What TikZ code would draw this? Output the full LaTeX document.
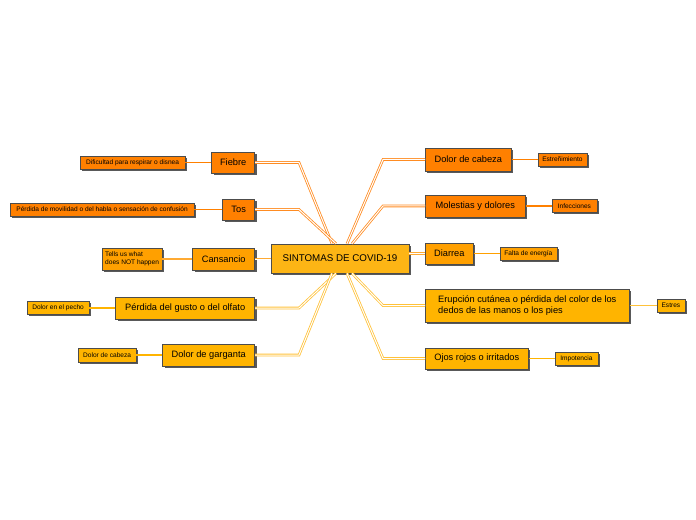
\documentclass[tikz,border=0pt]{standalone}
\usepackage{fontspec}
\setmainfont{Liberation Sans}
\usetikzlibrary{positioning, calc, shadows}

\definecolor{deeporange}{HTML}{FF8000}
\definecolor{midorange}{HTML}{FFA000}
\definecolor{goldbox}{HTML}{FFB400}
\definecolor{hubgold}{HTML}{FDB515}
\definecolor{deeplink}{HTML}{FF8C22}
\definecolor{midlink}{HTML}{FFAA33}
\definecolor{goldlink}{HTML}{FFC23A}

\begin{document}
\begin{tikzpicture}[
    x=1bp, y=-1bp,
    node distance=26bp,
    base/.style={rectangle, draw=black!70, line width=0.6bp, inner sep=0pt,
                 drop shadow={shadow xshift=1.8bp, shadow yshift=-1.8bp,
                              fill=black!65, opacity=1}},
    hub/.style={base, fill=hubgold, minimum width=138bp, minimum height=29bp,
                font=\fontsize{9.8}{11}\selectfont},
    branch/.style={base, minimum height=21bp, font=\fontsize{9.3}{11}\selectfont},
    leaf/.style={base, minimum height=13bp, align=center,
                 font=\fontsize{6.6}{7.6}\selectfont},
    link/.style={double=white, double distance=1bp, line width=0.8bp},
    twig/.style={line width=1.2bp}
]
  \useasboundingbox (0,0) rectangle (696,520);

  \node[hub] (covid) at (340,258.5) {SINTOMAS DE COVID-19};

  % left branches
  \node[branch, fill=deeporange, anchor=east, minimum width=43bp]  (fiebre)    at (255,162.5) {Fiebre};
  \node[branch, fill=deeporange, anchor=east, minimum width=32bp]  (tos)       at (255,209.5) {Tos};
  \node[branch, fill=midorange,  anchor=east, minimum width=62bp, minimum height=22bp] (cansancio) at (255,259) {Cansancio};
  \node[branch, fill=goldbox,    anchor=east, minimum width=139bp, minimum height=22bp] (perdida) at (255,308) {Pérdida del gusto o del olfato};
  \node[branch, fill=goldbox,    anchor=east, minimum width=92bp, minimum height=22bp]  (garganta) at (255,355) {Dolor de garganta};

  % right branches
  \node[branch, fill=deeporange, anchor=west, minimum width=86bp, minimum height=23bp]  (cabeza)    at (425,159.5) {Dolor de cabeza};
  \node[branch, fill=deeporange, anchor=west, minimum width=100bp, minimum height=22bp] (molestias) at (425,206) {Molestias y dolores};
  \node[branch, fill=midorange,  anchor=west, minimum width=48bp]  (diarrea)   at (425,253.5) {Diarrea};
  \node[branch, fill=goldbox,    anchor=west, minimum width=204bp, minimum height=33bp, align=left] (erupcion) at (425,305.5)
        {Erupción cutánea o pérdida del color de los\\dedos de las manos o los pies};
  \node[branch, fill=goldbox,    anchor=west, minimum width=103bp] (ojos)      at (425,358.5) {Ojos rojos o irritados};

  % leaves
  \node[leaf, fill=deeporange, left=of fiebre,     minimum width=105bp] (fiebreleaf)    {Dificultad para respirar o disnea};
  \node[leaf, fill=deeporange, left=28bp of tos,   minimum width=184bp] (tosleaf)       {Pérdida de movilidad o del habla o sensación de confusión};
  \node[leaf, fill=midorange,  left=30bp of cansancio, minimum width=60bp, minimum height=22bp, align=left] (cansancioleaf) {Tells us what\\does NOT happen};
  \node[leaf, fill=goldbox,    left=of perdida,    minimum width=62bp] (perdidaleaf)   {Dolor en el pecho};
  \node[leaf, fill=goldbox,    left=of garganta,   minimum width=58bp, minimum height=14bp] (gargantaleaf) {Dolor de cabeza};
  \node[leaf, fill=deeporange, right=of cabeza,    minimum width=49bp] (cabezaleaf)    {Estreñimiento};
  \node[leaf, fill=deeporange, right=of molestias, minimum width=45bp] (molestiasleaf) {Infecciones};
  \node[leaf, fill=midorange,  right=of diarrea,   minimum width=57bp] (diarrealeaf)   {Falta de energía};
  \node[leaf, fill=goldbox,    right=27bp of erupcion, minimum width=28bp] (erupcionleaf) {Estres};
  \node[leaf, fill=goldbox,    right=of ojos,      minimum width=43bp] (ojosleaf)      {Impotencia};

  % links to the hub
  \draw[link, draw=deeplink] (fiebre.east)    -- ++(44,0) -- ($(covid.north)+(-8,0)$);
  \draw[link, draw=deeplink] (tos.east)       -- ++(44,0) -- ($(covid.north)+(-4,0)$);
  \draw[link, draw=midlink]  (cansancio.east) -- (cansancio.east -| covid.west);
  \draw[link, draw=goldlink] (perdida.east)   -- ++(44,0) -- ($(covid.south)+(-4,0)$);
  \draw[link, draw=goldlink] (garganta.east)  -- ++(44,0) -- ($(covid.south)+(-8,0)$);
  \draw[link, draw=deeplink] (cabeza.west)    -- ++(-42,0) -- ($(covid.north)+(7,0)$);
  \draw[link, draw=deeplink] (molestias.west) -- ++(-42,0) -- ($(covid.north)+(12,0)$);
  \draw[link, draw=midlink]  (diarrea.west)   -- (diarrea.west -| covid.east);
  \draw[link, draw=goldlink] (erupcion.west)  -- ++(-42,0) -- ($(covid.south)+(12,0)$);
  \draw[link, draw=goldlink] (ojos.west)      -- ++(-42,0) -- ($(covid.south)+(7,0)$);

  % links to the leaves
  \draw[twig, draw=deeporange] (fiebre.west)    -- (fiebreleaf.east);
  \draw[twig, draw=deeporange] (tos.west)       -- (tosleaf.east);
  \draw[twig, draw=midlink]    (cansancio.west) -- (cansancioleaf.east);
  \draw[twig, draw=goldbox]    (perdida.west)   -- (perdidaleaf.east);
  \draw[twig, draw=goldbox]    (garganta.west)  -- (gargantaleaf.east);
  \draw[twig, draw=deeporange] (cabeza.east)    -- (cabezaleaf.west);
  \draw[twig, draw=deeporange] (molestias.east) -- (molestiasleaf.west);
  \draw[twig, draw=midorange]  (diarrea.east)   -- (diarrealeaf.west);
  \draw[twig, draw=goldlink]   (erupcion.east)  -- (erupcionleaf.west);
  \draw[twig, draw=goldbox]    (ojos.east)      -- (ojosleaf.west);
\end{tikzpicture}
\end{document}
